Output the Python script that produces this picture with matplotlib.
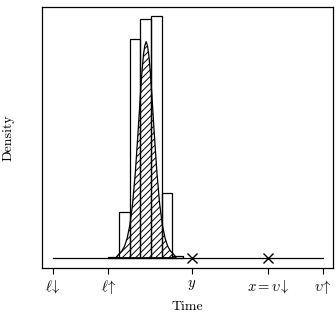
import numpy as np
import matplotlib.pyplot as plt

plt.rcParams['font.family'] = 'serif'
plt.rcParams['font.serif'] = ['cmr10']
plt.rcParams['mathtext.fontset'] = 'cm'
plt.rcParams['axes.unicode_minus'] = False
plt.rcParams['hatch.linewidth'] = 0.7

# histogram of samples (bin edges and density heights)
bin_edges = [2.06, 2.455, 2.85, 3.245, 3.64, 4.035, 4.43, 4.825]
bin_heights = [0.005, 0.184, 0.873, 0.953, 0.967, 0.26, 0.009]

# fitted density curve
curve_x = [2.36, 2.46, 2.56, 2.66, 2.76, 2.86, 2.96, 3.06, 3.16, 3.26, 3.31, 3.36, 3.41, 3.46,
           3.51, 3.56, 3.61, 3.66, 3.76, 3.86, 3.96, 4.06, 4.16, 4.26, 4.36, 4.46, 4.56]
curve_y = [0.003, 0.016, 0.027, 0.046, 0.079, 0.132, 0.217, 0.340, 0.500, 0.672, 0.749, 0.810, 0.848, 0.864,
           0.848, 0.810, 0.749, 0.672, 0.500, 0.340, 0.217, 0.132, 0.079, 0.046, 0.027, 0.016, 0.003]

# time axis marks
tick_pos = [0, 2.06, 5.15, 7.96, 10]
tick_labels = [r'$\ell\!\downarrow$', r'$\ell\!\uparrow$', r'$y$', r'$x = \upsilon\!\downarrow$', r'$\upsilon\!\uparrow$']
cross_x = [5.15, 7.96]
line_range = [0, 10]

fig = plt.figure(figsize=(3.36, 3.12), dpi=100)
ax = fig.add_axes([0.125, 0.141, 0.866, 0.837])

# baseline
ax.plot(line_range, [0, 0], color='black', lw=0.9, zorder=1)

# hatched density
ax.fill_between(curve_x, curve_y, 0, facecolor='none', edgecolor='black', hatch='/////', lw=0.9, zorder=2)

# histogram outlines
widths = np.diff(bin_edges)
ax.bar(bin_edges[:-1], bin_heights, width=widths, align='edge', fill=False,
       edgecolor='black', lw=0.9, zorder=3)

# crosses on the baseline
ax.plot(cross_x, [0] * len(cross_x), 'x', color='black', ms=6.5, mew=1.0, zorder=4)

ax.set_xlim(-0.396, 10.38)
ax.set_ylim(-0.041, 1.003)
ax.set_xticks(tick_pos)
ax.set_xticklabels(tick_labels, fontsize=10.5)
ax.set_yticks([])
ax.tick_params(axis='x', direction='out', length=4.5, width=0.8, pad=3)
for s in ax.spines.values():
    s.set_linewidth(0.9)

ax.set_xlabel('Time', fontsize=10)
ax.set_ylabel('Density', fontsize=10)
ax.xaxis.set_label_coords(0.5, -0.125)
ax.yaxis.set_label_coords(-0.095, 0.5)

fig.savefig('out.png', dpi=100)
